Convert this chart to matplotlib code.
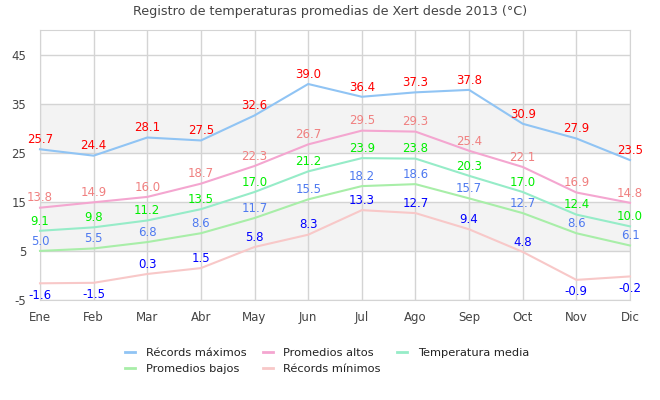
import matplotlib
matplotlib.use("Agg")
import matplotlib.pyplot as plt
import numpy as np

plt.rcParams["axes.unicode_minus"] = False

months = ["Ene", "Feb", "Mar", "Abr", "May", "Jun", "Jul", "Ago", "Sep", "Oct", "Nov", "Dic"]
rec_max = [25.7, 24.4, 28.1, 27.5, 32.6, 39.0, 36.4, 37.3, 37.8, 30.9, 27.9, 23.5]
prom_alt = [13.8, 14.9, 16.0, 18.7, 22.3, 26.7, 29.5, 29.3, 25.4, 22.1, 16.9, 14.8]
temp_med = [9.1, 9.8, 11.2, 13.5, 17.0, 21.2, 23.9, 23.8, 20.3, 17.0, 12.4, 10.0]
prom_baj = [5.0, 5.5, 6.8, 8.6, 11.7, 15.5, 18.2, 18.6, 15.7, 12.7, 8.6, 6.1]
rec_min = [-1.6, -1.5, 0.3, 1.5, 5.8, 8.3, 13.3, 12.7, 9.4, 4.8, -0.9, -0.2]
yticks = [-5, 5, 15, 25, 35, 45]

series = [
    ("Récords máximos", rec_max, "#90c4f4", "#ff0000"),
    ("Promedios altos", prom_alt, "#f4a6d0", "#f08080"),
    ("Temperatura media", temp_med, "#96ecc8", "#00ee00"),
    ("Promedios bajos", prom_baj, "#a8eea8", "#4f7af0"),
    ("Récords mínimos", rec_min, "#f8c8c8", "#0000ff"),
]

fig = plt.figure(figsize=(6.6, 4.0), dpi=100)
ax = fig.add_axes([40/660, 1-300/400, 590/660, 270/400])
x = np.arange(len(months))

ax.set_xlim(0, 11)
ax.set_ylim(-5, 50)

# alternating bands
for lo, hi in [(5, 15), (25, 35)]:
    ax.axhspan(lo, hi, color="#f3f3f3", zorder=0, lw=0)

ax.set_yticks(yticks)
ax.set_xticks(x)
ax.set_xticklabels(months)
ax.grid(True, color="#d4d4d4", lw=1, zorder=1)
ax.set_axisbelow(True)
for s in ax.spines.values():
    s.set_color("#d4d4d4")
ax.tick_params(length=0, colors="#444444", labelsize=8.5)
ax.tick_params(axis="y", pad=10)
ax.tick_params(axis="x", pad=8)

handles = []
for name, vals, lc, tc in series:
    h, = ax.plot(x, vals, color=lc, lw=1.5, label=name, zorder=3, clip_on=False)
    handles.append(h)
    for xi, v in zip(x, vals):
        if v < 0:
            ax.annotate(f"{v:.1f}", (xi, v), xytext=(0, -8.5), textcoords="offset points",
                        ha="center", va="center", color=tc, fontsize=8.5, zorder=4,
                        annotation_clip=False)
        else:
            ax.annotate(f"{v:.1f}", (xi, v), xytext=(0, 7), textcoords="offset points",
                        ha="center", va="center", color=tc, fontsize=8.5, zorder=4,
                        annotation_clip=False)

fig.text(0.5, 1-12/400, "Registro de temperaturas promedias de Xert desde 2013 (°C)",
         ha="center", va="center", fontsize=9.2, color="#444444")

# row-major ordering for a 3-column legend with 2 rows
order = [0, 3, 1, 4, 2]
leg = fig.legend([handles[i] for i in order], [series[i][0] for i in order],
                 loc="center", bbox_to_anchor=(327/660, 1-361/400), ncol=3, frameon=False,
                 fontsize=8.2, handlelength=0.9, handletextpad=0.9, columnspacing=1.45,
                 labelspacing=0.6)
for t in leg.get_texts():
    t.set_color("#222222")
for h in leg.legend_handles:
    h.set_linewidth(2)

fig.savefig("out.png", dpi=100)
